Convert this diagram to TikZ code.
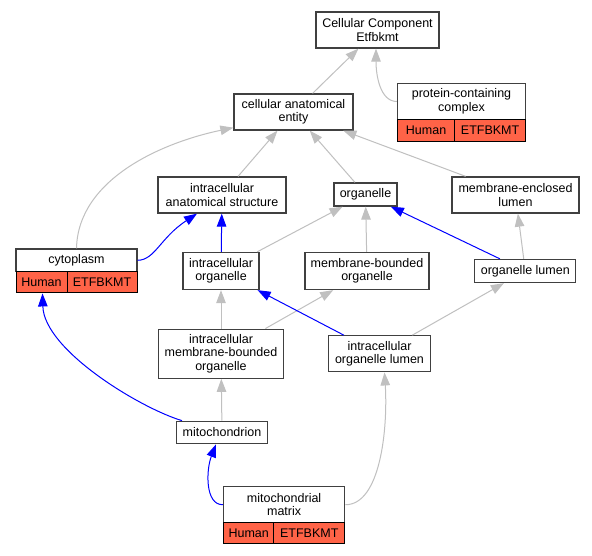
\documentclass[tikz,border=0pt]{standalone}
\usepackage{fontspec}
\setmainfont{Liberation Sans}
\usetikzlibrary{arrows.meta}
\definecolor{edgegray}{HTML}{C0C0C0}
\definecolor{boxgray}{HTML}{404040}
\definecolor{tomatored}{HTML}{FF6347}
\begin{document}
\begin{tikzpicture}[x=1pt,y=-1pt,
  term/.style={draw=boxgray, line width=1.3pt, fill=white, inner sep=0pt, align=center,
    font=\fontsize{12.5}{13.5}\selectfont},
  cell/.style={draw=black, line width=1pt, fill=tomatored, inner sep=0pt,
    font=\fontsize{12.5}{13.5}\selectfont},
  grayedge/.style={draw=edgegray, line width=1pt, -{Triangle[length=13pt,width=9.5pt]}},
  blueedge/.style={draw=blue, line width=1pt, -{Triangle[length=13pt,width=9.5pt]}}]
\fill[white] (0,0) rectangle (592,555);
\useasboundingbox (0,0) rectangle (592,555);

% nodes
\node[term, minimum width=123pt, minimum height=36pt] (cc) at (377.5,30) {Cellular Component\\Etfbkmt};
\node[term, minimum width=128pt, minimum height=35.5pt] (pcc) at (461.5,101.5) {protein-containing\\complex};
\node[cell, minimum width=57.2pt, minimum height=21.7pt] (pcch) at (426.1,130.2) {Human};
\node[cell, minimum width=70.8pt, minimum height=21.7pt] (pccg) at (490.1,130.2) {ETFBKMT};
\node[term, minimum width=119pt, minimum height=36pt] (cae) at (293.5,112) {cellular anatomical\\entity};
\node[term, minimum width=128pt, minimum height=36pt] (ias) at (222,195) {intracellular\\anatomical structure};
\node[term, minimum width=63pt, minimum height=23pt] (org) at (365.5,194.5) {organelle};
\node[term, minimum width=127pt, minimum height=36pt] (mel) at (515.5,195) {membrane-enclosed\\lumen};
\node[term, minimum width=121pt, minimum height=22.7pt] (cyto) at (76.5,260.3) {cytoplasm};
\node[cell, minimum width=51pt, minimum height=21.3pt] (cytoh) at (41.5,282.3) {Human};
\node[cell, minimum width=70pt, minimum height=21.3pt] (cytog) at (102,282.3) {ETFBKMT};
\node[term, minimum width=76pt, minimum height=37pt] (io) at (221,271) {intracellular\\organelle};
\node[term, minimum width=124pt, minimum height=37pt] (mbo) at (367,271) {membrane-bounded\\organelle};
\node[term, minimum width=101pt, minimum height=23pt] (ol) at (525.3,271) {organelle lumen};
\node[term, minimum width=124.6pt, minimum height=49pt] (imbo) at (221,353.7) {intracellular\\membrane-bounded\\organelle};
\node[term, minimum width=102pt, minimum height=36pt] (iol) at (379.5,353.8) {intracellular\\organelle lumen};
\node[term, minimum width=91pt, minimum height=22.4pt] (mito) at (222,432.5) {mitochondrion};
\node[term, minimum width=121.2pt, minimum height=36pt] (mm) at (284.1,504.7) {mitochondrial\\matrix};
\node[cell, minimum width=50.4pt, minimum height=21pt] (mmh) at (248.7,533.2) {Human};
\node[cell, minimum width=70.8pt, minimum height=21pt] (mmg) at (309.3,533.2) {ETFBKMT};

% straight edges
\draw[grayedge] (cae) -- (cc);
\draw[grayedge] (ias) -- (cae);
\draw[grayedge] (org) -- (cae);
\draw[grayedge] (mel) -- (cae);
\draw[blueedge] (io) -- (ias);
\draw[grayedge] (io) -- (org);
\draw[grayedge] (mbo) -- (org);
\draw[blueedge] (ol) -- (org);
\draw[grayedge] (ol) -- (mel);
\draw[grayedge] (imbo) -- (io);
\draw[grayedge] (imbo) -- (mbo);
\draw[blueedge] (iol) -- (io);
\draw[grayedge] (iol) -- (ol);
\draw[grayedge] (mito) -- (imbo);

% curved edges
\draw[grayedge] (pcc.west) .. controls (380,101.5) and (376,75) .. ([xshift=-1.5pt]cc.south);
\draw[grayedge] (cyto.north) .. controls (78,180) and (160,143) .. ([yshift=3pt]cae.south west);
\draw[blueedge] (cyto.east) .. controls (155,260) and (160,238) .. ([xshift=-25pt]ias.south);
\draw[blueedge] ([xshift=-40pt]mito.north) .. controls (140,408) and (44,350) .. ([xshift=1pt]cytoh.south);
\draw[blueedge] (mm.west) .. controls (205,505) and (206,470) .. ([xshift=-6pt]mito.south);
\draw[grayedge] (mm.east) .. controls (380,505) and (388,430) .. ([xshift=5pt]iol.south);
\end{tikzpicture}
\end{document}
